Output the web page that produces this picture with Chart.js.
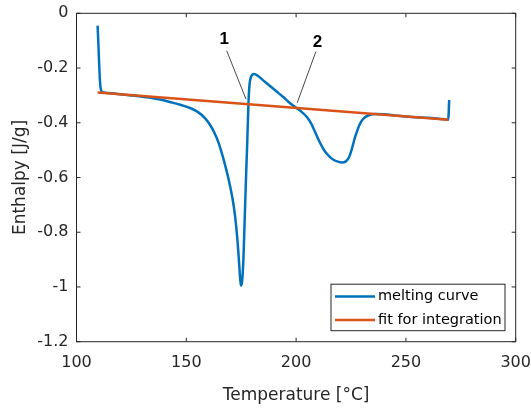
<!DOCTYPE html>
<html>
<head>
<meta charset="utf-8">
<script src="https://cdn.jsdelivr.net/npm/chart.js@4/dist/chart.umd.min.js"></script>
<style>
  html, body { margin: 0; padding: 0; background: #fff; }
  #wrap { width: 531px; height: 408px; }
</style>
</head>
<body>
<div id="wrap"><canvas id="dscChart" width="531" height="408"></canvas></div>
<script>
// melting curve (DSC enthalpy vs temperature)
const meltTemp = [109.6, 110.0, 110.5, 111.0, 111.8, 113, 118, 125, 132, 138, 143, 148, 152, 155.5, 158.5,
    161, 163, 164.8, 166.5, 168, 169.5, 171, 172.2, 173.3, 174.2, 174.8, 175.4, 176, 176.6, 177.2,
    177.8, 178.3, 178.8, 179.5, 180.8, 182.5, 185, 188, 191, 194, 197, 200, 202.5, 205, 207, 209,
    211, 213, 215, 217, 219, 221, 222.5, 224, 225.3, 226.5, 228, 229.5, 231, 233, 236, 240, 245,
    250, 255, 260, 265, 268, 269.3, 269.5, 269.7];
const meltEnthalpy = [-0.045, -0.12, -0.22, -0.275, -0.288, -0.290, -0.294, -0.300, -0.307, -0.315,
    -0.325, -0.336, -0.347, -0.362, -0.383, -0.41, -0.44, -0.475, -0.52, -0.565, -0.615, -0.675, -0.74,
    -0.83, -0.93, -0.995, -0.98, -0.90, -0.75, -0.60, -0.46, -0.33, -0.26, -0.232, -0.222, -0.228,
    -0.245, -0.265, -0.285, -0.305, -0.327, -0.345, -0.36, -0.38, -0.405, -0.44, -0.475, -0.503,
    -0.522, -0.535, -0.542, -0.545, -0.542, -0.528, -0.498, -0.462, -0.425, -0.398, -0.382, -0.373,
    -0.368, -0.369, -0.373, -0.377, -0.380, -0.382, -0.385, -0.388, -0.389, -0.36, -0.317];

// straight baseline used for integration
const fitTemp = [109.6, 269.3];
const fitEnthalpy = [-0.289, -0.389];

const seriesLabels = ['melting curve', 'fit for integration'];
const xTicks = [100, 150, 200, 250, 300];
const yTicks = [0, -0.2, -0.4, -0.6, -0.8, -1, -1.2];

// numbered callouts: label, text anchor, leader start, leader end (data units)
const calloutText = ['1', '2'];
const calloutAt = [[167.3, -0.095], [209.7, -0.107]];
const calloutFrom = [[168.4, -0.137], [209.0, -0.140]];
const calloutTo = [[177.2, -0.314], [200.5, -0.327]];

const BLUE = '#0072BD';
const ORANGE = '#D95319';
const AXIS = '#262626';
const FONT = "'DejaVu Sans', sans-serif";

const toPoints = (xs, ys) => xs.map((x, i) => ({ x: x, y: ys[i] }));

// inward ticks + box, like a boxed axes
const boxPlugin = {
    id: 'boxAxes',
    afterDatasetsDraw(chart) {
        const { ctx, chartArea: a, scales: { x, y } } = chart;
        const len = 4;
        ctx.save();
        ctx.strokeStyle = AXIS;
        ctx.lineWidth = 1;
        ctx.beginPath();
        xTicks.forEach(v => {
            const px = x.getPixelForValue(v);
            ctx.moveTo(px, a.bottom); ctx.lineTo(px, a.bottom - len);
            ctx.moveTo(px, a.top); ctx.lineTo(px, a.top + len);
        });
        yTicks.forEach(v => {
            const py = y.getPixelForValue(v);
            ctx.moveTo(a.left, py); ctx.lineTo(a.left + len, py);
            ctx.moveTo(a.right, py); ctx.lineTo(a.right - len, py);
        });
        ctx.stroke();
        ctx.strokeRect(a.left, a.top, a.right - a.left, a.bottom - a.top);

        // callouts
        ctx.strokeStyle = '#333';
        ctx.lineWidth = 0.9;
        ctx.fillStyle = '#000';
        ctx.font = "bold 17px 'Liberation Sans', sans-serif";
        ctx.textAlign = 'center';
        ctx.textBaseline = 'middle';
        calloutText.forEach((t, i) => {
            ctx.beginPath();
            ctx.moveTo(x.getPixelForValue(calloutFrom[i][0]), y.getPixelForValue(calloutFrom[i][1]));
            ctx.lineTo(x.getPixelForValue(calloutTo[i][0]), y.getPixelForValue(calloutTo[i][1]));
            ctx.stroke();
            ctx.fillText(t, x.getPixelForValue(calloutAt[i][0]), y.getPixelForValue(calloutAt[i][1]));
        });

        // legend in the lower right corner
        const w = 174, h = 46.5;
        const lx = a.right - 10.7 - w, ly = a.bottom - 11 - h;
        ctx.fillStyle = '#fff';
        ctx.fillRect(lx, ly, w, h);
        ctx.strokeStyle = AXIS;
        ctx.lineWidth = 1;
        ctx.strokeRect(lx, ly, w, h);
        ctx.font = '14.5px ' + FONT;
        ctx.textAlign = 'left';
        [BLUE, ORANGE].forEach((c, i) => {
            const ry = ly + 12.4 + i * 23.3;
            ctx.strokeStyle = c;
            ctx.lineWidth = 2.5;
            ctx.beginPath();
            ctx.moveTo(lx + 4, ry); ctx.lineTo(lx + 44, ry);
            ctx.stroke();
            ctx.fillStyle = '#000';
            ctx.fillText(seriesLabels[i], lx + 47, ry);
        });
        ctx.restore();
    }
};

const ctx = document.getElementById('dscChart').getContext('2d');
new Chart(ctx, {
    type: 'line',
    data: {
        datasets: [
            {
                label: seriesLabels[0],
                data: toPoints(meltTemp, meltEnthalpy),
                borderColor: BLUE,
                borderWidth: 2.5,
                pointRadius: 0,
                cubicInterpolationMode: 'monotone',
                order: 1
            },
            {
                label: seriesLabels[1],
                data: toPoints(fitTemp, fitEnthalpy),
                borderColor: ORANGE,
                borderWidth: 2.5,
                pointRadius: 0,
                order: 0
            }
        ]
    },
    options: {
        responsive: false,
        animation: false,
        layout: { padding: { left: 0, top: 13.3, right: 15.3, bottom: 0 } },
        plugins: { legend: { display: false }, tooltip: { enabled: false } },
        scales: {
            x: {
                type: 'linear',
                min: 100, max: 300,
                grid: { display: false, drawTicks: false },
                border: { display: false },
                afterBuildTicks: s => { s.ticks = xTicks.map(v => ({ value: v })); },
                afterFit: s => { s.height = 66.3; s.paddingLeft = 0; s.paddingRight = 0; },
                ticks: { color: AXIS, font: { family: FONT, size: 16 }, padding: 12, maxRotation: 0 },
                title: {
                    display: true,
                    text: 'Temperature [°C]',
                    color: AXIS,
                    font: { family: FONT, size: 17 },
                    padding: { top: 0, bottom: 2 }
                }
            },
            y: {
                type: 'linear',
                min: -1.2, max: 0,
                grid: { display: false, drawTicks: false },
                border: { display: false },
                afterBuildTicks: s => { s.ticks = yTicks.map(v => ({ value: v })); },
                afterFit: s => { s.width = 76.5; s.paddingTop = 0; s.paddingBottom = 0; },
                ticks: {
                    color: AXIS,
                    font: { family: FONT, size: 16 },
                    padding: 8,
                    callback: v => String(Number(v.toFixed(1)))
                },
                title: {
                    display: true,
                    text: 'Enthalpy [J/g]',
                    color: AXIS,
                    font: { family: FONT, size: 17 },
                    padding: { top: 10, bottom: 0 }
                }
            }
        }
    },
    plugins: [boxPlugin]
});
</script>
</body>
</html>
